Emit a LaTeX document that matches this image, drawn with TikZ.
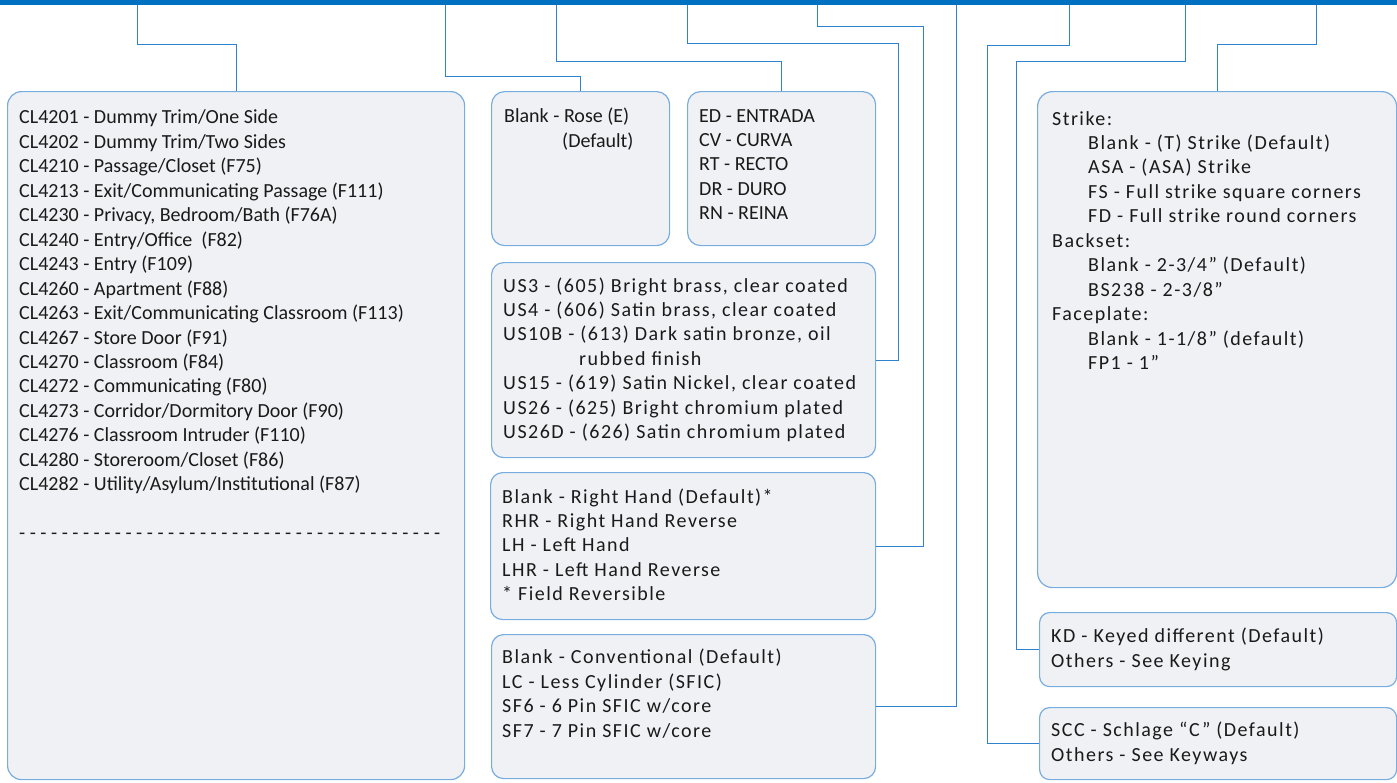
\documentclass[tikz,border=0pt]{standalone}
\usepackage{fontspec}
\setmainfont{Carlito}
\newfontfamily\spacedfont{Carlito}[LetterSpace=7.4]
\definecolor{barblue}{HTML}{0070C0}
\definecolor{boxfill}{HTML}{F0F1F5}
\definecolor{boxline}{HTML}{78ADE0}
\definecolor{wire}{HTML}{2F82D0}
\definecolor{ink}{HTML}{1A1A1A}
\tikzset{
  panel/.style={draw=boxline, fill=boxfill, line width=1.2pt, rounded corners=14pt,
    inner sep=0pt, anchor=north west},
  smallpanel/.style={panel, rounded corners=10pt},
  wireline/.style={draw=wire, line width=1pt},
  plaintext/.style={anchor=base west, inner sep=0pt, align=left, text=ink,
    font=\fontsize{20}{24.45}\selectfont},
  spacedtext/.style={plaintext, font=\spacedfont\fontsize{20}{24.45}\selectfont},
}
\begin{document}
\begin{tikzpicture}[x=1pt,y=-1pt]
\useasboundingbox (0,0) rectangle (1397,782);
% top bar
\node[fill=barblue, inner sep=0pt, anchor=north west, minimum width=1397pt, minimum height=5pt] (bar) at (0,0) {};
% anchor points on the bar
\coordinate (t1) at (137,5);
\coordinate (t2) at (445,5);
\coordinate (t3) at (556,5);
\coordinate (t4) at (687,5);
\coordinate (t5) at (817,5);
\coordinate (t6) at (956,5);
\coordinate (t8) at (1069,5);
\coordinate (t7) at (1185,5);
\coordinate (t9) at (1316,5);
% panels
\node[panel, minimum width=457pt, minimum height=688pt] (b1) at (7,91) {};
\node[panel, rounded corners=13pt, minimum width=178pt, minimum height=154pt] (b2) at (491,91) {};
\node[panel, rounded corners=13pt, minimum width=188pt, minimum height=154pt] (b3) at (687,91) {};
\node[panel, rounded corners=12pt, minimum width=384pt, minimum height=195pt] (b4) at (491,262) {};
\node[panel, rounded corners=12pt, minimum width=385pt, minimum height=147pt] (b5) at (490,472) {};
\node[panel, rounded corners=12pt, minimum width=384pt, minimum height=144pt] (b6) at (491,634) {};
\node[panel, rounded corners=15pt, minimum width=359pt, minimum height=496pt] (b9) at (1037,91) {};
\node[smallpanel, minimum width=357pt, minimum height=74pt] (b7) at (1039,612) {};
\node[smallpanel, minimum width=357pt, minimum height=72pt] (b8) at (1039,707) {};
% connectors
\draw[wireline] (t1) -- ++(0,39) -| (b1.north);
\draw[wireline] (t2) -- ++(0,71) -| (b2.north);
\draw[wireline] (t3) -- ++(0,56) -| (b3.north);
\draw[wireline] (t4) -- ++(0,38) -- ++(211,0) |- (b4.east);
\draw[wireline] (t5) -- ++(0,21) -- ++(106,0) |- (b5.east);
\draw[wireline] (t6) |- (b6.east);
\draw[wireline] (t8) -- ++(0,40) -- ++(-82,0) |- (b8.west);
\draw[wireline] (t7) -- ++(0,56) -- ++(-169,0) |- (b7.west);
\draw[wireline] (t9) -- ++(0,39) -| (b9.north);
% texts (anchored at the baseline of their last line)
\node[plaintext] (b1t) at (19,539.6) {CL4201 - Dummy Trim/One Side\\
CL4202 - Dummy Trim/Two Sides\\
CL4210 - Passage/Closet (F75)\\
CL4213 - Exit/Communicating Passage (F111)\\
CL4230 - Privacy, Bedroom/Bath (F76A)\\
CL4240 - Entry/Office\ \ (F82)\\
CL4243 - Entry (F109)\\
CL4260 - Apartment (F88)\\
CL4263 - Exit/Communicating Classroom (F113)\\
CL4267 - Store Door (F91)\\
CL4270 - Classroom (F84)\\
CL4272 - Communicating (F80)\\
CL4273 - Corridor/Dormitory Door (F90)\\
CL4276 - Classroom Intruder (F110)\\
CL4280 - Storeroom/Closet (F86)\\
CL4282 - Utility/Asylum/Institutional (F87)\\[24.45pt]
- - - - - - - - - - - - - - - - - - - - - - - - - - - - - - - - - - - - - - - -};
\node[plaintext] (b2t) at (504,147.4) {Blank - Rose (E)\\ \hspace*{58pt}(Default)};
\node[plaintext] (b3t) at (699,219.8) {ED - ENTRADA\\ CV - CURVA\\ RT - RECTO\\ DR - DURO\\ RN - REINA};
\node[spacedtext] (b4t) at (503,438.7) {US3 - (605) Bright brass, clear coated\\
US4 - (606) Satin brass, clear coated\\
US10B - (613) Dark satin bronze, oil\\
\hspace*{76pt}rubbed finish\\
US15 - (619) Satin Nickel, clear coated\\
US26 - (625) Bright chromium plated\\
US26D - (626) Satin chromium plated};
\node[spacedtext] (b5t) at (502,600.8) {Blank - Right Hand (Default)*\\
RHR - Right Hand Reverse\\
LH - Left Hand\\
LHR - Left Hand Reverse\\
* Field Reversible};
\node[spacedtext] (b6t) at (502,737.3) {Blank - Conventional (Default)\\
LC - Less Cylinder (SFIC)\\
SF6 - 6 Pin SFIC w/core\\
SF7 - 7 Pin SFIC w/core};
\node[spacedtext] (b9t) at (1052,369.5) {Strike:\\
\hspace*{36pt}Blank - (T) Strike (Default)\\
\hspace*{36pt}ASA - (ASA) Strike\\
\hspace*{36pt}FS - Full strike square corners\\
\hspace*{36pt}FD - Full strike round corners\\
Backset:\\
\hspace*{36pt}Blank - 2-3/4” (Default)\\
\hspace*{36pt}BS238 - 2-3/8”\\
Faceplate:\\
\hspace*{36pt}Blank - 1-1/8” (default)\\
\hspace*{36pt}FP1 - 1”};
\node[spacedtext] (b7t) at (1051,667.4) {KD - Keyed different (Default)\\ Others - See Keying};
\node[spacedtext] (b8t) at (1051,761.4) {SCC - Schlage “C” (Default)\\ Others - See Keyways};
\end{tikzpicture}
\end{document}
